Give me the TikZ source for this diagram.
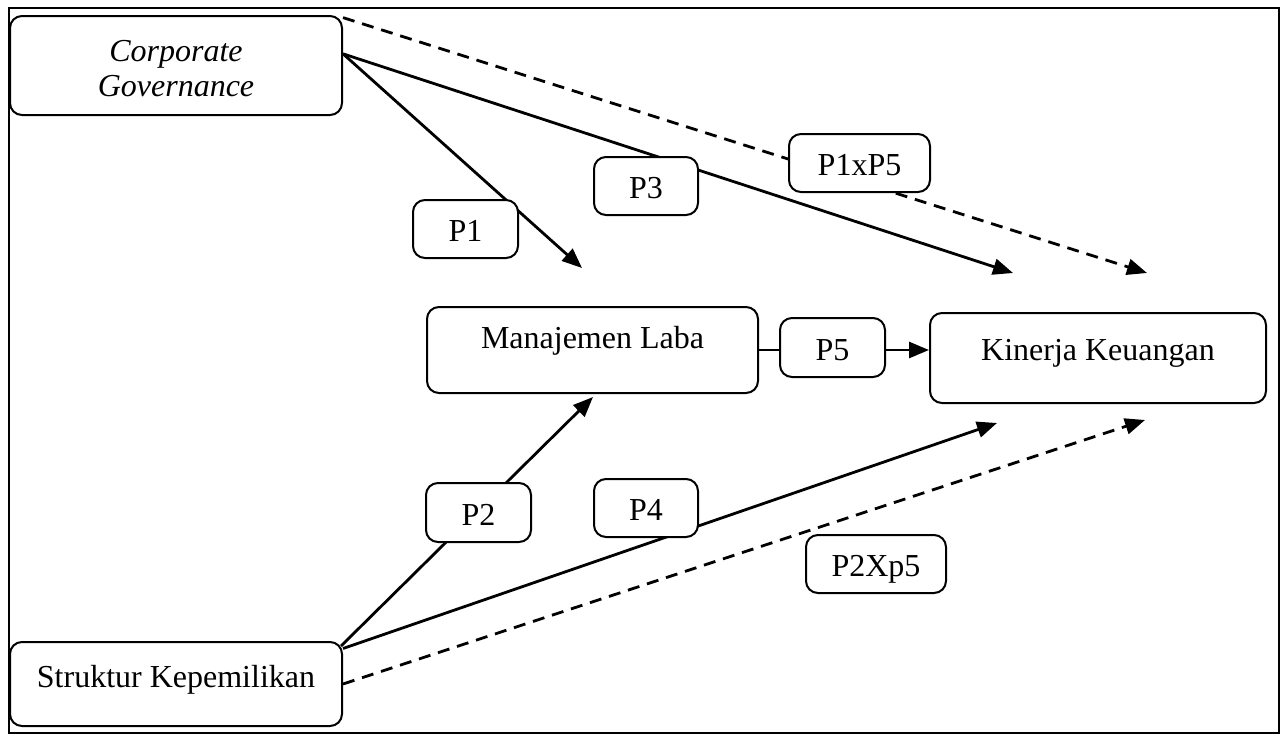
\documentclass[tikz,border=0pt]{standalone}
\usepackage{fontspec}
\setmainfont{Liberation Serif}
\usetikzlibrary{arrows.meta}
\pgfdeclarelayer{bg}
\pgfsetlayers{bg,main}
\begin{document}
\begin{tikzpicture}[x=1pt,y=-1pt,
  box/.style={draw, line width=2pt, rounded corners=12pt, fill=white, inner sep=0pt,
    font=\fontsize{32}{35}\selectfont, text height=22pt, text depth=7pt},
  lab/.style={box, text height=25pt, text depth=0pt},
  conn/.style={line width=2.8pt, -{Triangle[length=20pt,width=16pt]}},
  dconn/.style={conn, dash pattern=on 12pt off 8pt},
  frame/.style={draw, line width=2pt}
]
\useasboundingbox (0,0) rectangle (1282,736);

% main boxes
\node[box, minimum width=332pt, minimum height=99pt, align=center,
      font=\fontsize{32}{35}\selectfont\itshape, text height=, text depth=] (cg) at (176,65.5)
      {\rule{0pt}{27pt}Corporate\\Governance};
\node[box, minimum width=331pt, minimum height=86pt, text depth=26pt] (ml) at (592.5,350) {Manajemen Laba};
\node[box, minimum width=336pt, minimum height=90pt, text depth=18pt] (kk) at (1098,358) {Kinerja Keuangan};
\node[box, minimum width=332pt, minimum height=84pt, text depth=16pt] (sk) at (176,684) {Struktur Kepemilikan};

% label boxes
\node[lab, minimum width=105pt, minimum height=58pt] (p1) at (465.5,229) {P1};
\node[lab, minimum width=104pt, minimum height=58pt] (p3) at (646,186) {P3};
\node[lab, minimum width=141pt, minimum height=58pt] (p15) at (859.5,163) {P1xP5};
\node[lab, minimum width=105pt, minimum height=59pt] (p5) at (832.5,347.5) {P5};
\node[lab, minimum width=105pt, minimum height=59pt] (p2) at (478.5,512.5) {P2};
\node[lab, minimum width=104pt, minimum height=58pt] (p4) at (646,508) {P4};
\node[lab, minimum width=140pt, minimum height=58pt] (p25) at (876,564) {P2Xp5};

% free arrow ends
\coordinate (t1) at (582,268);
\coordinate (t3) at (1013,273);
\coordinate (t15) at (1147,273);
\coordinate (t2) at (593,397);
\coordinate (t4) at (997,423);
\coordinate (t25) at (1145,420);
\coordinate (fa) at (9,8);
\coordinate (fb) at (1279,733);

\begin{pgfonlayer}{bg}
  \draw[frame] (fa) rectangle (fb);
  \draw[conn] (cg.4.3) -- (t1);
  \draw[conn] (cg.4.3) -- (t3);
  \draw[dconn] (cg.16) -- (t15);
  \draw[conn] (ml.east) -- (ml.east -| kk.west);
  \draw[conn] ([xshift=-2pt,yshift=-5pt]sk.north east) -- (t2);
  \draw[conn] (sk.12.2) -- (t4);
  \draw[dconn] (sk.east) -- (t25);
\end{pgfonlayer}
\end{tikzpicture}
\end{document}
